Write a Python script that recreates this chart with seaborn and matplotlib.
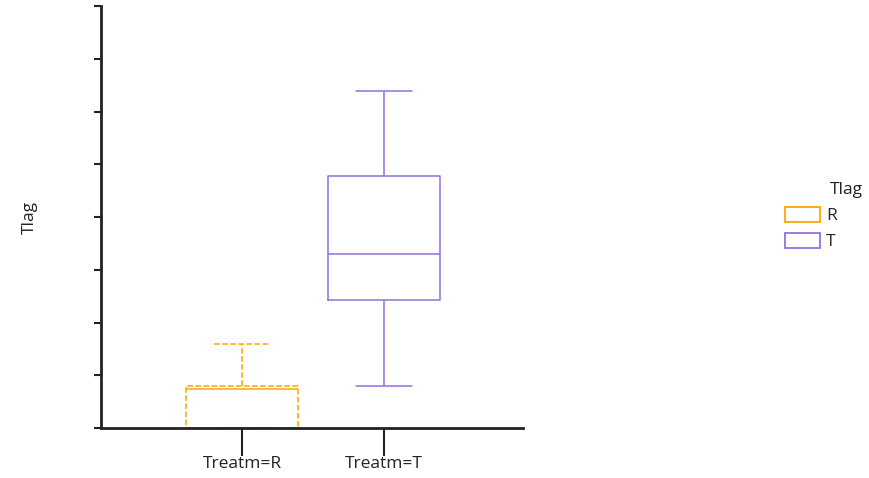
import pandas as pd
import matplotlib
matplotlib.use("Agg")
import matplotlib.pyplot as plt
import seaborn as sns
from matplotlib.patches import Patch

# five-number summaries (min, q1, median, q3, max)
groups = ["R", "T"]
tlag_R = [0.0, 0.0, 0.74, 0.80, 1.59]
tlag_T = [0.80, 2.43, 3.30, 4.78, 6.39]
x_labels = ["Treatm=R", "Treatm=T"]
colors = {"R": "#FFA500", "T": "#9370DB"}

df = pd.DataFrame({
    "Treatm": ["R"] * len(tlag_R) + ["T"] * len(tlag_T),
    "Tlag": tlag_R + tlag_T,
})

sns.set_style("white")
plt.rcParams["font.family"] = ["Open Sans", "DejaVu Sans"]

fig = plt.figure(figsize=(8.69, 4.78), dpi=100)
ax = fig.add_axes([0.1162, 0.1046, 0.4856, 0.8828])

for g in groups:
    ls = "--" if g == "R" else "-"
    c = colors[g]
    sns.boxplot(data=df[df["Treatm"] == g], x="Treatm", y="Tlag", order=groups,
                fill=False, color=c, width=0.79, whis=1.5, showfliers=False,
                linewidth=1.1, ax=ax,
                boxprops={"linestyle": ls, "color": c},
                whiskerprops={"linestyle": ls, "color": c},
                capprops={"linestyle": ls, "color": c},
                medianprops={"linestyle": "-", "color": c})

ax.set_xlim(-0.993, 1.979)
ax.set_ylim(0, 8)
ax.set_yticks(range(0, 9))
ax.set_yticklabels([])
ax.set_xticks([0, 1])
ax.set_xticklabels(x_labels, fontsize=12.5, color="#222222")
ax.set_xlabel("")
ax.set_ylabel("Tlag", fontsize=12.5, color="#222222")
ax.yaxis.set_label_coords(-0.149, 0.5)

for s in ["top", "right"]:
    ax.spines[s].set_visible(False)
for s in ["left", "bottom"]:
    ax.spines[s].set_linewidth(2)
    ax.spines[s].set_color("#222222")
ax.tick_params(axis="y", which="both", left=True, length=5, width=1.5, color="#222222")
ax.tick_params(axis="x", which="both", bottom=True, length=20, width=1.5,
               color="#222222", pad=0.5)

handles = [Patch(facecolor="white", edgecolor=colors[g], linewidth=1.3, label=g)
           for g in groups]
leg = fig.legend(handles=handles, loc="upper left",
                 bbox_to_anchor=(0.9033, 0.567), frameon=False, fontsize=12.5,
                 handlelength=2.0, handleheight=0.92, borderpad=0, borderaxespad=0,
                 handletextpad=0.35, labelspacing=0.5)
fig.text(830 / 869, 1 - 190 / 478, "Tlag", fontsize=12.5, color="#222222",
         ha="left", va="center")

fig.savefig("out.png", dpi=100)
